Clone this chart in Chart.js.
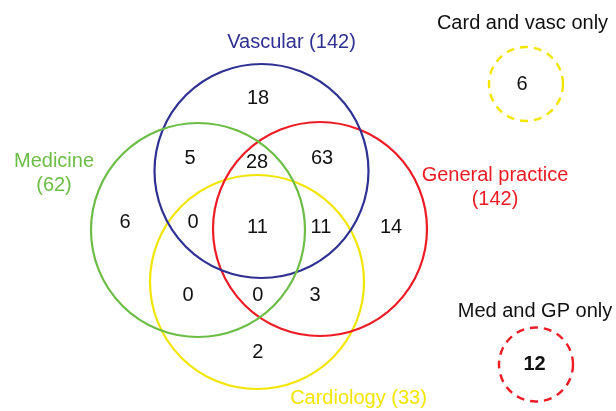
<!DOCTYPE html>
<html>
<head>
<meta charset="utf-8">
<script src="https://cdn.jsdelivr.net/npm/chart.js@4.4.1/dist/chart.umd.min.js"></script>
<style>
  body { margin: 0; background: #fff; }
  #wrap { width: 616px; height: 411px; }
</style>
</head>
<body>
<div id="wrap"><canvas id="venn" width="616" height="411"></canvas></div>
<script>
// Sets and their totals
const setNames = ["Medicine", "Vascular", "General practice", "Cardiology"]
const setTotals = [62, 142, 142, 33]
const setColors = ["#6cbd45", "#2e3192", "#ed1c24", "#f2e500"]

// Overlap counts (one per region of the diagram)
const regionNames = ["V", "M+V", "M+V+G", "V+G", "M", "M+V+C", "all", "V+G+C", "G", "M+C", "M+G+C", "G+C", "C"]
const regionCounts = [18, 5, 28, 63, 6, 0, 11, 11, 14, 0, 0, 3, 2]

// Pairs that cannot be shown inside the diagram
const extraNames = ["Card and vasc only", "Med and GP only"]
const extraCounts = [6, 12]

// ---- layout (chart units = pixels, y measured from top) ----
const circleX = [198, 261.5, 320, 257]
const circleY = [230, 171, 229, 282]
const circleR = 107
const regionX = [258, 190, 257, 322, 125, 193, 257.5, 321, 391, 188, 257.7, 315, 257.7]
const regionY = [98, 158.7, 162, 158.7, 222, 222, 227.5, 227.5, 227, 295, 295, 295, 352.5]
const setLabelLines = [["Medicine", "(62)"], ["Vascular (142)"], ["General practice", "(142)"], ["Cardiology (33)"]]
const setLabelX = [54, 291.5, 495, 358.5]
const setLabelY = [[161.5, 185], [42], [175, 199], [398.6]]
const extraColors = ["#f2e500", "#ed1c24"]
const extraX = [526, 536]
const extraY = [84, 364.5]
const extraR = 37
const extraTitleX = [522.5, 535]
const extraTitleY = [23, 311.5]

const FONT = '"Liberation Sans", Arial, sans-serif'

function radiusPx(chart, r) {
  const s = chart.scales.x
  return s.getPixelForValue(r) - s.getPixelForValue(0)
}

const datasets = []
setNames.forEach((name, i) => {
  datasets.push({
    label: name,
    data: [{ x: circleX[i], y: circleY[i] }],
    borderColor: setColors[i],
    backgroundColor: "rgba(0,0,0,0)",
    borderWidth: 2.2,
    pointRadius: (ctx) => radiusPx(ctx.chart, circleR),
  })
})
extraNames.forEach((name, i) => {
  datasets.push({
    label: name,
    data: [{ x: extraX[i], y: extraY[i] }],
    borderColor: extraColors[i],
    backgroundColor: "rgba(0,0,0,0)",
    borderWidth: 2.4,
    dashed: true,
    pointRadius: (ctx) => radiusPx(ctx.chart, extraR),
  })
})

// dashed outline for the two small circles
const dashPlugin = {
  id: "dash",
  beforeDatasetDraw(chart, args) {
    chart.ctx.save()
    if (chart.data.datasets[args.index].dashed) chart.ctx.setLineDash([8, 6])
  },
  afterDatasetDraw(chart) {
    chart.ctx.restore()
  },
}

// numbers and set labels
const textPlugin = {
  id: "vennText",
  afterDatasetsDraw(chart) {
    const ctx = chart.ctx
    const x = chart.scales.x
    const y = chart.scales.y
    ctx.save()
    ctx.textAlign = "center"
    ctx.textBaseline = "middle"
    ctx.font = "20px " + FONT
    ctx.fillStyle = "#111"
    regionCounts.forEach((v, i) => {
      ctx.fillText(String(v), x.getPixelForValue(regionX[i]), y.getPixelForValue(regionY[i]))
    })
    setLabelLines.forEach((lines, i) => {
      ctx.fillStyle = setColors[i]
      lines.forEach((t, j) => {
        ctx.fillText(t, x.getPixelForValue(setLabelX[i]), y.getPixelForValue(setLabelY[i][j]))
      })
    })
    extraNames.forEach((t, i) => {
      ctx.fillStyle = "#111"
      ctx.font = "20px " + FONT
      ctx.fillText(t, x.getPixelForValue(extraTitleX[i]), y.getPixelForValue(extraTitleY[i]))
      ctx.font = (i === 1 ? "bold " : "") + "20px " + FONT
      ctx.fillText(String(extraCounts[i]), x.getPixelForValue(extraX[i] - (i === 1 ? 1.5 : 4)), y.getPixelForValue(extraY[i]))
    })
    ctx.restore()
  },
}

new Chart(document.getElementById("venn"), {
  type: "scatter",
  data: { datasets },
  options: {
    responsive: false,
    animation: false,
    events: [],
    layout: { padding: 0 },
    plugins: { legend: { display: false }, tooltip: { enabled: false } },
    scales: {
      x: { type: "linear", min: 0, max: 616, display: false },
      y: { type: "linear", min: 0, max: 411, reverse: true, display: false },
    },
  },
  plugins: [dashPlugin, textPlugin],
})
</script>
</body>
</html>
